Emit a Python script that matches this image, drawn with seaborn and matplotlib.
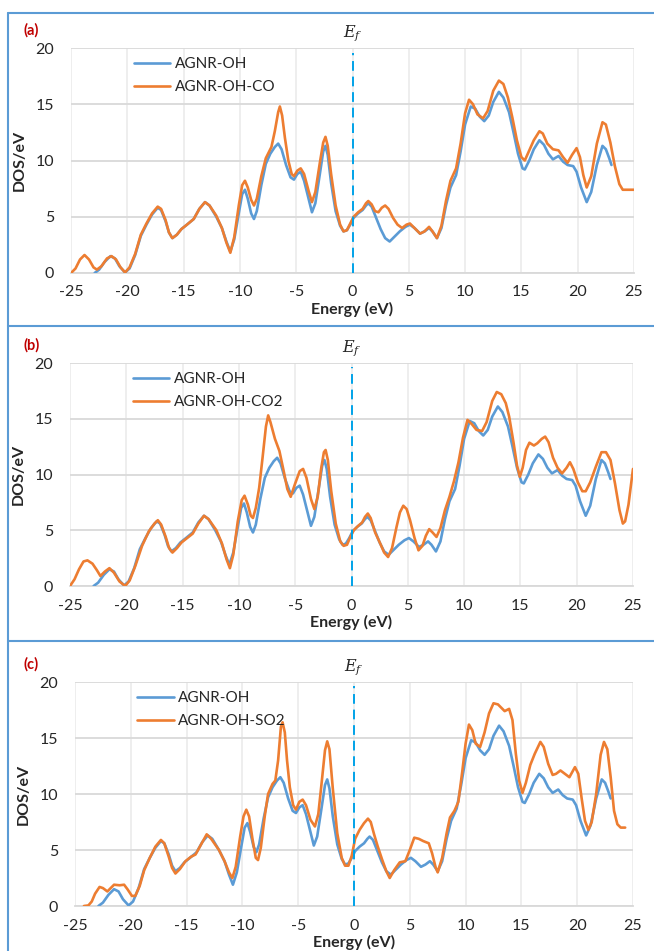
import matplotlib
matplotlib.use("Agg")
import matplotlib.pyplot as plt
from matplotlib.lines import Line2D
import seaborn as sns
import pandas as pd

# ---------------- data ----------------
oh_e = [-22.9, -22.5, -22.0, -21.5, -21.1, -20.7, -20.2, -19.8, -19.3, -18.8, -18.3, -17.8,
        -17.3, -17.0, -16.6, -16.3, -16.0, -15.6, -15.2, -14.7, -14.1, -13.6, -13.1, -12.7,
        -12.1, -11.6, -11.2, -10.85, -10.5, -10.1, -9.8, -9.55, -9.3, -9.0, -8.75, -8.5,
        -8.1, -7.7, -7.3, -6.9, -6.6, -6.3, -5.9, -5.5, -5.2, -4.9, -4.6, -4.3, -3.9, -3.6,
        -3.3, -2.9, -2.6, -2.4, -2.2, -1.9, -1.5, -1.1, -0.8, -0.5, -0.2, 0.1, 0.5, 0.9,
        1.2, 1.4, 1.7, 2.1, 2.5, 2.9, 3.3, 3.7, 4.2, 4.7, 5.1, 5.5, 6.0, 6.4, 6.8, 7.1, 7.5,
        7.9, 8.3, 8.7, 9.2, 9.6, 10.0, 10.5, 10.9, 11.3, 11.7, 12.1, 12.5, 13.0, 13.4, 13.9,
        14.3, 14.7, 15.1, 15.3, 15.7, 16.1, 16.6, 17.0, 17.4, 17.8, 18.3, 18.7, 19.1, 19.6,
        19.9, 20.3, 20.8, 21.2, 21.7, 22.2, 22.5, 22.8, 23.0]
oh_dos = [0.0, 0.3, 1.0, 1.5, 1.3, 0.6, 0.05, 0.4, 1.6, 3.3, 4.3, 5.2,
          5.8, 5.6, 4.6, 3.6, 3.1, 3.4, 3.9, 4.3, 4.8, 5.7, 6.3, 6.0,
          5.0, 4.0, 2.8, 1.9, 3.0, 5.3, 7.0, 7.4, 6.6, 5.3, 4.8, 5.5,
          7.8, 9.7, 10.6, 11.2, 11.5, 11.0, 9.6, 8.5, 8.3, 8.8, 9.0, 8.2, 6.6, 5.4,
          6.2, 8.8, 10.8, 11.3, 10.5, 8.0, 5.5, 4.2, 3.7, 3.8, 4.3, 4.9, 5.3, 5.6,
          6.0, 6.2, 5.9, 4.9, 3.9, 3.1, 2.8, 3.2, 3.7, 4.1, 4.3, 4.0, 3.5, 3.7, 4.0, 3.7, 3.1,
          4.0, 6.0, 7.6, 8.7, 10.8, 13.2, 14.8, 14.6, 13.9, 13.5, 14.0, 15.2, 16.1, 15.6, 14.3,
          12.5, 10.6, 9.3, 9.2, 10.0, 11.0, 11.8, 11.4, 10.6, 10.1, 10.4, 9.9, 9.6, 9.5,
          9.0, 7.6, 6.3, 7.2, 9.6, 11.3, 11.0, 10.2, 9.6]

co_e = [-25.0, -24.6, -24.2, -23.8, -23.4, -23.0, -22.7, -22.3, -21.8, -21.4, -21.0, -20.6,
        -20.2, -19.8, -19.3, -18.8, -18.3, -17.8, -17.3, -17.0, -16.6, -16.3, -16.0, -15.6,
        -15.2, -14.7, -14.1, -13.6, -13.1, -12.7, -12.1, -11.6, -11.2, -10.85, -10.5, -10.1,
        -9.8, -9.55, -9.3, -9.0, -8.75, -8.5, -8.1, -7.7, -7.2, -6.9, -6.6, -6.45, -6.25,
        -6.0, -5.7, -5.4, -5.2, -4.9, -4.6, -4.3, -3.9, -3.6, -3.3, -2.9, -2.6, -2.4, -2.2,
        -1.9, -1.5, -1.1, -0.8, -0.5, -0.2, 0.1, 0.5, 0.9, 1.2, 1.4, 1.7, 2.0, 2.3, 2.6, 2.9,
        3.2, 3.6, 4.0, 4.4, 4.8, 5.1, 5.5, 6.0, 6.4, 6.8, 7.1, 7.5, 7.9, 8.3, 8.7, 9.2, 9.6,
        10.0, 10.35, 10.7, 11.1, 11.6, 12.0, 12.5, 13.0, 13.4, 13.8, 14.2, 14.6, 15.0, 15.3,
        15.7, 16.1, 16.6, 16.9, 17.3, 17.8, 18.3, 18.7, 19.1, 19.5, 19.9, 20.2, 20.5, 20.8,
        21.2, 21.7, 22.2, 22.5, 22.9, 23.3, 23.7, 24.0, 25.0]
co_dos = [0.0, 0.4, 1.2, 1.6, 1.2, 0.5, 0.3, 0.6, 1.3, 1.5, 1.2, 0.5,
          0.05, 0.5, 1.7, 3.4, 4.4, 5.3, 5.9, 5.7, 4.7, 3.6, 3.1, 3.4,
          3.9, 4.3, 4.8, 5.7, 6.3, 6.0, 5.1, 4.0, 2.7, 1.8, 3.2, 6.0,
          7.8, 8.2, 7.6, 6.5, 6.0, 6.6, 8.6, 10.2, 11.2, 12.6, 14.3, 14.8, 14.0,
          12.0, 10.0, 8.8, 8.6, 9.1, 9.3, 8.8, 7.3, 6.3, 7.2, 9.8, 11.6, 12.1, 11.3,
          8.8, 6.0, 4.3, 3.7, 3.8, 4.4, 5.0, 5.4, 5.7, 6.2, 6.4, 6.1, 5.5, 5.4, 5.8, 6.0,
          5.7, 4.9, 4.3, 4.0, 4.3, 4.4, 4.0, 3.5, 3.7, 4.1, 3.7, 3.1, 4.2, 6.4, 8.2, 9.3, 11.5,
          14.2, 15.4, 15.0, 14.1, 13.75, 14.4, 16.2, 17.1, 16.8, 15.6, 13.8, 11.8, 10.3, 10.0,
          10.9, 11.8, 12.6, 12.4, 11.5, 11.0, 10.9, 10.3, 9.8, 10.5, 11.1, 10.3, 8.7, 7.6,
          8.6, 11.5, 13.4, 13.2, 11.6, 9.5, 7.9, 7.4, 7.4]

co2_e = [-25.0, -24.6, -24.2, -23.8, -23.45, -23.0, -22.6, -22.3, -21.9, -21.5, -21.1, -20.6,
         -20.1, -19.7, -19.2, -18.6, -18.0, -17.5, -17.2, -16.9, -16.5, -16.2, -15.9, -15.5,
         -15.1, -14.6, -14.1, -13.6, -13.1, -12.7, -12.0, -11.5, -11.1, -10.8, -10.5, -10.1,
         -9.75, -9.5, -9.2, -8.95, -8.75, -8.5, -8.2, -7.9, -7.6, -7.4, -7.2, -6.8, -6.4,
         -6.0, -5.7, -5.4, -5.0, -4.6, -4.3, -4.0, -3.6, -3.3, -3.0, -2.7, -2.45, -2.3, -2.1,
         -1.8, -1.4, -1.0, -0.7, -0.4, -0.1, 0.2, 0.6, 0.95, 1.2, 1.45, 1.7, 2.1, 2.6, 2.9,
         3.25, 3.6, 4.0, 4.3, 4.6, 4.9, 5.2, 5.6, 5.95, 6.3, 6.6, 6.9, 7.2, 7.55, 7.9, 8.3,
         8.7, 9.1, 9.5, 9.9, 10.3, 10.7, 11.1, 11.6, 12.0, 12.5, 12.9, 13.3, 13.7, 14.0, 14.4,
         14.7, 14.95, 15.2, 15.5, 15.8, 16.2, 16.5, 16.9, 17.2, 17.5, 17.9, 18.3, 18.7, 19.1,
         19.4, 19.7, 20.1, 20.5, 20.8, 21.2, 21.7, 22.2, 22.6, 23.0, 23.4, 23.8, 24.1, 24.3,
         24.6, 25.0]
co2_dos = [0.0, 0.6, 1.5, 2.2, 2.3, 2.0, 1.4, 0.9, 1.3, 1.6, 1.2, 0.4,
           0.0, 0.5, 1.8, 3.6, 4.9, 5.6, 5.9, 5.5, 4.4, 3.4, 3.0, 3.4,
           3.9, 4.3, 4.7, 5.6, 6.3, 6.0, 5.0, 3.8, 2.4, 1.6, 2.8, 5.8,
           7.7, 8.1, 7.3, 6.3, 6.1, 7.0, 8.8, 11.5, 14.3, 15.3, 14.7, 13.2, 12.1,
           10.2, 8.7, 8.0, 9.2, 10.3, 10.5, 9.7, 7.8, 6.9, 8.0, 10.5, 12.0, 12.2, 11.3,
           8.5, 5.6, 4.0, 3.6, 3.7, 4.4, 5.0, 5.4, 5.7, 6.2, 6.5, 6.1, 4.8, 3.7, 3.0,
           2.6, 3.4, 5.3, 6.6, 7.2, 6.9, 5.9, 4.3, 3.2, 3.6, 4.5, 5.1, 4.8, 4.4, 5.2, 6.8,
           8.0, 9.4, 11.1, 13.3, 14.9, 14.5, 14.0, 13.9, 14.7, 16.6, 17.4, 17.2, 16.4, 15.2, 12.8,
           10.8, 9.8, 10.6, 12.2, 12.85, 12.6, 12.8, 13.2, 13.4, 12.9, 11.5, 10.6, 10.1, 10.6,
           11.1, 10.5, 9.3, 8.5, 8.5, 9.3, 10.7, 12.0, 12.0, 11.3, 9.2, 6.8, 5.6, 5.8,
           7.3, 10.5]

so2_e = [-24.2, -23.8, -23.5, -23.2, -22.8, -22.5, -22.1, -21.8, -21.5, -21.0, -20.6, -20.3,
         -19.9, -19.6, -19.2, -18.8, -18.3, -17.8, -17.3, -17.0, -16.6, -16.3, -16.0, -15.6,
         -15.1, -14.6, -14.2, -13.7, -13.2, -12.8, -12.1, -11.6, -11.2, -10.9, -10.6, -10.2,
         -9.9, -9.65, -9.4, -9.1, -8.8, -8.6, -8.35, -8.0, -7.7, -7.3, -7.05, -6.8, -6.55,
         -6.4, -6.2, -6.0, -5.75, -5.45, -5.2, -4.9, -4.6, -4.3, -3.9, -3.5, -3.2, -2.9, -2.6,
         -2.4, -2.2, -1.9, -1.5, -1.1, -0.8, -0.5, -0.2, 0.1, 0.5, 0.9, 1.25, 1.5, 1.8, 2.1,
         2.5, 2.9, 3.2, 3.6, 4.1, 4.6, 5.0, 5.4, 5.8, 6.2, 6.7, 7.0, 7.3, 7.5, 7.9, 8.3, 8.6,
         9.0, 9.35, 9.7, 10.0, 10.3, 10.6, 10.9, 11.3, 11.7, 12.1, 12.5, 12.9, 13.2, 13.5,
         13.9, 14.2, 14.5, 14.8, 15.1, 15.4, 15.8, 16.2, 16.7, 17.0, 17.4, 17.8, 18.1, 18.5,
         18.9, 19.3, 19.8, 20.1, 20.4, 20.7, 21.0, 21.3, 21.7, 22.1, 22.4, 22.7, 23.0, 23.3,
         23.6, 23.9, 24.3]
so2_dos = [0.0, 0.05, 0.4, 1.1, 1.7, 1.6, 1.3, 1.6, 1.9, 1.85, 1.9, 1.5,
           0.9, 0.9, 1.8, 3.2, 4.3, 5.3, 5.9, 5.6, 4.4, 3.4, 2.9, 3.3,
           4.0, 4.4, 4.6, 5.5, 6.4, 6.0, 5.0, 4.0, 3.0, 2.5, 3.5, 6.2,
           8.0, 8.6, 8.0, 6.0, 4.3, 4.1, 5.2, 8.0, 10.0, 10.9, 11.2, 13.0, 16.0,
           16.4, 15.5, 13.0, 10.6, 9.0, 8.6, 9.3, 9.5, 9.0, 7.7, 7.1, 8.2, 11.0, 13.9,
           14.7, 14.0, 10.5, 6.5, 4.3, 3.6, 3.6, 4.5, 6.0, 6.8, 7.4, 7.8, 7.5, 6.4, 5.4,
           4.2, 3.1, 2.5, 3.2, 3.9, 4.0, 5.0, 6.1, 6.0, 5.8, 5.6, 4.7, 3.5, 3.0, 4.3, 6.5, 7.9,
           8.5, 9.3, 12.0, 14.5, 16.2, 15.7, 14.5, 14.2, 15.5, 17.2, 18.1, 18.0, 17.7, 17.4,
           17.6, 16.6, 13.6, 11.2, 10.1, 11.0, 12.6, 13.6, 14.65, 14.2, 12.7, 11.7, 11.8, 12.1,
           11.8, 11.5, 12.4, 11.8, 9.6, 7.6, 6.8, 7.5, 10.0, 13.5, 14.65, 14.0, 11.5, 8.5,
           7.3, 7.0, 7.0]

panel_tags = ["(a)", "(b)", "(c)"]
series_names = ["AGNR-OH-CO", "AGNR-OH-CO2", "AGNR-OH-SO2"]
series_e = [co_e, co2_e, so2_e]
series_dos = [co_dos, co2_dos, so2_dos]
y_ticks = [0, 5, 10, 15, 20]
x_ticks = [-25, -20, -15, -10, -5, 0, 5, 10, 15, 20, 25]

# ---------------- styling ----------------
sns.set_theme(style="white")
plt.rcParams["font.family"] = ["Lato", "DejaVu Sans"]
plt.rcParams["mathtext.fontset"] = "dejavuserif"

W, H = 654, 951
fig = plt.figure(figsize=(W / 100, H / 100), dpi=100)

BLUE = "#5B9BD5"
ORANGE = "#ED7D31"
FRAME = "#5B9BD5"

# axes boxes in pixels: left, right, top, bottom
boxes = [(71, 634, 48, 273), (70, 633, 363, 586), (75, 633, 682, 906)]
frame_tops = [13, 326, 641]

for i, (l, r, t, b) in enumerate(boxes):
    ax = fig.add_axes([l / W, 1 - b / H, (r - l) / W, (b - t) / H])
    df_oh = pd.DataFrame({"Energy": oh_e, "DOS": oh_dos})
    df_x = pd.DataFrame({"Energy": series_e[i], "DOS": series_dos[i]})
    sns.lineplot(data=df_oh, x="Energy", y="DOS", ax=ax, color=BLUE, lw=1.9,
                 label="AGNR-OH", sort=False, zorder=3)
    sns.lineplot(data=df_x, x="Energy", y="DOS", ax=ax, color=ORANGE, lw=1.9,
                 label=series_names[i], sort=False, zorder=4)
    for ln in ax.lines:
        ln.set_solid_joinstyle("round")
        ln.set_solid_capstyle("round")
    ax.axvline(0, ymin=0, ymax=0.98, color="#00A2E8", lw=1.4, ls=(0, (5, 3)), zorder=5)
    ax.set_xlim(-25, 25)
    ax.set_ylim(0, 20)
    ax.set_xticks(x_ticks)
    ax.set_yticks(y_ticks)
    ax.set_xticklabels([str(v) for v in x_ticks])
    ax.set_yticklabels([str(v) for v in y_ticks])
    ax.tick_params(axis="both", length=0, labelsize=11.5, colors="#262626", pad=9)
    ax.tick_params(axis="y", pad=12)
    ax.grid(True, axis="y", color="#D9D9D9", lw=1.3)
    ax.grid(True, axis="x", color="#EBEBEB", lw=1.2)
    ax.set_axisbelow(True)
    for s in ["left", "right", "top"]:
        ax.spines[s].set_visible(False)
    ax.spines["bottom"].set_color("#D9D9D9")
    ax.spines["bottom"].set_linewidth(1.3)
    ax.set_xlabel("Energy (eV)", fontsize=11.5, fontweight="bold", color="#262626", labelpad=2)
    ax.set_ylabel("DOS/eV", fontsize=11.5, fontweight="bold", color="#262626", labelpad=8)
    ax.yaxis.set_label_coords(-44 / (r - l), 0.5)
    leg = ax.legend(loc="upper left", bbox_to_anchor=(0.095, 1.0), frameon=False,
                    fontsize=11, handlelength=2.4, handletextpad=0.3, labelspacing=0.6,
                    borderaxespad=0.2)
    for t_ in leg.get_texts():
        t_.set_color("#262626")
    # panel tag and Ef label
    fig.text(24 / W, 1 - (t - 18) / H, panel_tags[i], fontsize=10.5, fontweight="bold",
             color="#C00000", ha="left", va="center")
    fig.text((l + (r - l) * 0.5) / W, 1 - (t - 15) / H, r"$E_f$", fontsize=11.5,
             color="#262626", ha="center", va="center")

# panel frames
for yt in frame_tops:
    fig.add_artist(Line2D([8 / W, 1.0], [1 - yt / H, 1 - yt / H], transform=fig.transFigure,
                          color=FRAME, lw=1.5))
fig.add_artist(Line2D([8 / W, 8 / W], [1 - 13 / H, 0.0], transform=fig.transFigure,
                      color=FRAME, lw=1.5))

fig.savefig("out.png", dpi=100, facecolor="white")
